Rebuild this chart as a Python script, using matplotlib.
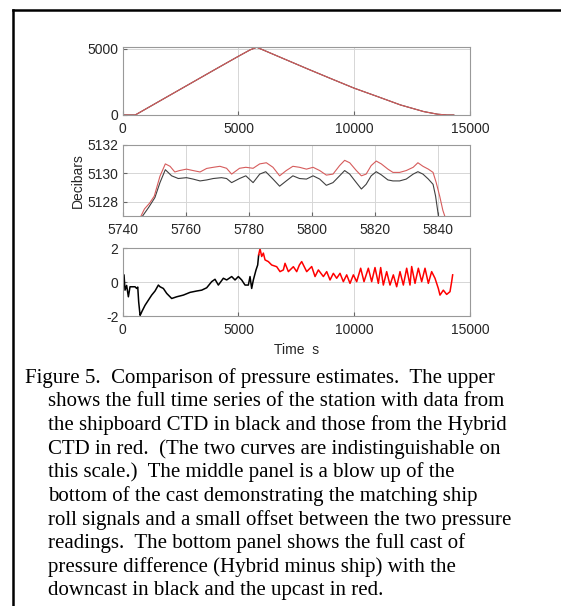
import matplotlib.pyplot as plt
from matplotlib.lines import Line2D

# top panel: full cast pressure (s, dbar)
full_t = [0, 300, 540, 1000, 2000, 3000, 4000, 5000, 5500, 5790, 6500, 8000, 9000, 10000,
          11000, 12000, 13000, 13600, 14000, 14300]
full_p = [0, 0, 0, 460, 1460, 2460, 3460, 4450, 4930, 5132, 4600, 3480, 2750, 2030,
          1400, 760, 260, 60, 0, 0]

# middle panel: blow-up near the bottom of the cast
mid_t_red = [5745.8, 5746.9, 5748.5, 5750.0, 5751.8, 5753.5, 5755.0, 5756.5, 5758.0, 5760.2,
             5762.3, 5764.5, 5766.6, 5768.7, 5770.8, 5772.9, 5774.5, 5777.0, 5779.0, 5781.3,
             5783.4, 5785.5, 5787.6, 5789.7, 5791.8, 5793.9, 5796.0, 5798.2, 5800.3, 5802.4,
             5804.5, 5806.6, 5808.7, 5810.3, 5811.9, 5814.0, 5815.6, 5817.1, 5818.7, 5820.3,
             5821.9, 5824.0, 5825.6, 5827.7, 5829.8, 5832.0, 5833.5, 5835.1, 5836.8, 5838.3,
             5839.3, 5840.4, 5841.4, 5842.0]
mid_p_red = [5127.0, 5127.5, 5127.9, 5128.4, 5129.8, 5130.67, 5130.5, 5130.1, 5130.2, 5130.3,
             5130.2, 5130.1, 5130.35, 5130.43, 5130.5, 5130.36, 5129.95, 5130.36, 5130.43, 5130.36,
             5130.67, 5130.75, 5130.43, 5129.83, 5130.2, 5130.5, 5130.43, 5130.3, 5130.43, 5130.2,
             5129.88, 5129.95, 5130.55, 5130.92, 5130.75, 5130.2, 5129.83, 5129.95, 5130.55, 5130.87,
             5130.67, 5130.3, 5130.07, 5130.07, 5130.2, 5130.43, 5130.75, 5130.5, 5130.3, 5130.07,
             5129.35, 5128.4, 5127.4, 5127.0]
mid_t_blk = [5746.3, 5748.2, 5750.2, 5751.8, 5753.5, 5755.5, 5757.6, 5760.2, 5762.3, 5764.5,
             5766.6, 5768.7, 5771.3, 5772.9, 5774.5, 5777.0, 5779.0, 5781.3, 5783.4, 5785.3,
             5787.6, 5789.7, 5791.8, 5793.9, 5796.0, 5798.2, 5800.3, 5802.4, 5804.5, 5806.6,
             5808.7, 5810.3, 5811.9, 5814.0, 5815.6, 5817.1, 5818.7, 5820.3, 5821.9, 5824.0,
             5825.6, 5827.7, 5829.8, 5832.0, 5833.5, 5835.1, 5836.8, 5838.3, 5839.1, 5840.0]
mid_p_blk = [5127.0, 5127.6, 5128.3, 5129.35, 5130.26, 5129.83, 5129.64, 5129.7, 5129.6, 5129.47,
             5129.54, 5129.64, 5129.7, 5129.64, 5129.35, 5129.64, 5129.83, 5129.35, 5129.95, 5130.12,
             5129.6, 5129.1, 5129.47, 5129.83, 5129.64, 5129.6, 5129.83, 5129.6, 5129.16, 5129.35,
             5129.83, 5130.2, 5129.95, 5129.35, 5128.9, 5129.23, 5129.83, 5130.12, 5129.9, 5129.54,
             5129.47, 5129.47, 5129.6, 5129.95, 5130.12, 5129.95, 5129.6, 5129.23, 5128.4, 5127.0]

# bottom panel: pressure difference (Hybrid minus ship)
down_t = [0, 58, 100, 170, 245, 316, 533, 605, 650, 690, 750, 790, 835, 965, 1108, 1252, 1396,
          1540, 1612, 1756, 1900, 2116, 2332, 2620, 2908, 3196, 3411, 3627, 3843, 3987, 4131,
          4347, 4491, 4707, 4851, 4995, 5139, 5283, 5427, 5499, 5571, 5643, 5758, 5830, 5873]
down_d = [-0.18, 0.42, -0.48, -0.2, -0.87, -0.28, -0.28, -0.38, -0.3, -1.17, -1.96, -1.86, -1.72,
          -1.37, -1.07, -0.77, -0.53, -0.18, -0.28, -0.38, -0.67, -0.97, -0.87, -0.77, -0.61,
          -0.53, -0.48, -0.34, 0.02, 0.16, -0.18, 0.22, 0.12, 0.32, 0.12, 0.32, 0.12, -0.18,
          -0.18, 0.32, -0.38, 0.12, 0.71, 1.0, 1.6]
up_t = [5873, 5931, 6003, 6075, 6148, 6290, 6435, 6651, 6795, 6939, 7011, 7155, 7371, 7515,
        7630, 7731, 7947, 8163, 8307, 8451, 8667, 8811, 8955, 9098, 9242, 9386, 9530, 9674,
        9818, 9962, 10106, 10278, 10422, 10609, 10753, 10897, 11041, 11142, 11257, 11401,
        11545, 11689, 11833, 11977, 12121, 12265, 12409, 12481, 12625, 12769, 12913, 13057,
        13200, 13344, 13488, 13632, 13704, 13848, 13992, 14136, 14208, 14251]
up_d = [1.6, 1.96, 1.5, 1.7, 1.3, 1.2, 1.0, 0.9, 0.61, 0.71, 1.1, 0.61, 0.9, 0.61,
        1.0, 1.2, 0.61, 0.91, 0.32, 0.71, 0.32, 0.61, 0.12, 0.51, 0.22, 0.51, 0.02, 0.42,
        -0.08, 0.42, 0.02, 0.81, 0.02, 0.81, 0.02, 0.85, -0.08, 0.85, -0.18, 0.61,
        -0.18, 0.42, -0.28, 0.61, -0.18, 0.81, -0.18, 0.91, -0.08, 0.81, 0.02, 0.81,
        -0.08, 0.61, 0.22, -0.38, -0.77, -0.48, -0.73, -0.57, 0.02, 0.42]

caption = [
    "Figure 5.  Comparison of pressure estimates.  The upper",
    "shows the full time series of the station with data from",
    "the shipboard CTD in black and those from the Hybrid",
    "CTD in red.  (The two curves are indistinguishable on",
    "this scale.)  The middle panel is a blow up of the",
    "bottom of the cast demonstrating the matching ship",
    "roll signals and a small offset between the two pressure",
    "readings.  The bottom panel shows the full cast of",
    "pressure difference (Hybrid minus ship) with the",
    "downcast in black and the upcast in red.",
]

W, H = 561, 606
plt.rcParams['font.family'] = ['Liberation Sans', 'DejaVu Sans']
plt.rcParams['axes.unicode_minus'] = False
fig = plt.figure(figsize=(W / 100, H / 100), dpi=100)


def box(top, bottom, left=122.7, right=470):
    return [left / W, 1 - bottom / H, (right - left) / W, (bottom - top) / H]


def style(ax):
    ax.grid(True, color='0.84', linewidth=0.7)
    ax.set_axisbelow(True)
    for s in ax.spines.values():
        s.set_color('0.6')
        s.set_linewidth(0.8)
    ax.tick_params(direction='in', length=3, color='0.4', labelsize=10, pad=3,
                   labelcolor='0.15')
    ax.tick_params(axis='x', pad=5)


ax1 = fig.add_axes(box(47, 115))
ax1.plot(full_t, full_p, color='0.2', linewidth=0.8)
ax1.plot(full_t, full_p, color='#d65c5c', linewidth=0.8)
ax1.set_xlim(0, 15000)
ax1.set_ylim(0, 5150)
ax1.set_xticks([0, 5000, 10000, 15000])
ax1.set_yticks([0, 5000])
style(ax1)

ax2 = fig.add_axes(box(145, 216))
ax2.plot(mid_t_blk, mid_p_blk, color='0.25', linewidth=0.8)
ax2.plot(mid_t_red, mid_p_red, color='#d65c5c', linewidth=0.8)
ax2.set_xlim(5740, 5850)
ax2.set_ylim(5127, 5132)
ax2.set_xticks([5740, 5760, 5780, 5800, 5820, 5840])
ax2.set_yticks([5128, 5130, 5132])
ax2.set_ylabel("Decibars", fontsize=10, color='0.15', labelpad=2)
style(ax2)

ax3 = fig.add_axes(box(248, 316))
ax3.plot(down_t, down_d, color='black', linewidth=1.1)
ax3.plot(up_t, up_d, color='red', linewidth=1.1)
ax3.set_xlim(0, 15000)
ax3.set_ylim(-2, 2)
ax3.set_xticks([0, 5000, 10000, 15000])
ax3.set_yticks([-2, 0, 2])
ax3.set_xlabel("Time  s", fontsize=10, color='0.15', labelpad=4)
style(ax3)

# caption, one line at a time (hanging indent)
for i, line in enumerate(caption):
    x = 25 if i == 0 else 48
    fig.text(x / W, 1 - (378 + i * 23.6) / H, line, family='Liberation Serif',
             fontsize=15, va='center', ha='left', color='black')

# page frame
fig.add_artist(Line2D([12.5 / W, 1], [1 - 9.5 / H, 1 - 9.5 / H], color='black', linewidth=1.8))
fig.add_artist(Line2D([12.5 / W, 12.5 / W], [0, 1 - 9.5 / H], color='black', linewidth=1.8))

fig.savefig("out.png", dpi=100)
